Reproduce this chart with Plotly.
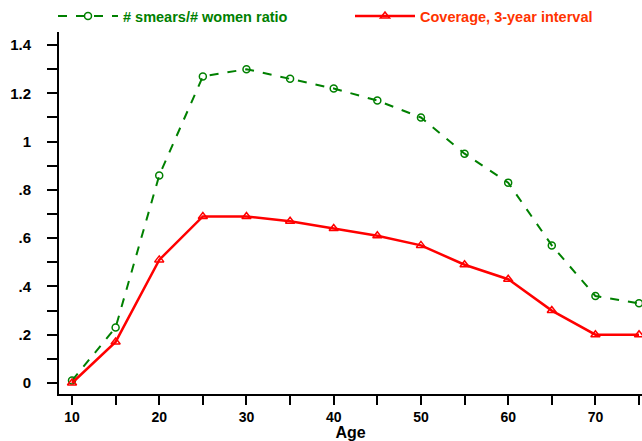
import plotly.graph_objects as go

age = [10, 15, 20, 25, 30, 35, 40, 45, 50, 55, 60, 65, 70, 75]
ratio = [0.01, 0.23, 0.86, 1.27, 1.30, 1.26, 1.22, 1.17, 1.10, 0.95, 0.83, 0.57, 0.36, 0.33]
coverage = [0.00, 0.17, 0.51, 0.69, 0.69, 0.67, 0.64, 0.61, 0.57, 0.49, 0.43, 0.30, 0.20, 0.20]

x_tickvals = [10, 15, 20, 25, 30, 35, 40, 45, 50, 55, 60, 65, 70, 75]
x_ticktext = ["10", "", "20", "", "30", "", "40", "", "50", "", "60", "", "70", ""]
y_tickvals = [0, 0.1, 0.2, 0.3, 0.4, 0.5, 0.6, 0.7, 0.8, 0.9, 1.0, 1.1, 1.2, 1.3, 1.4]
y_ticktext = ["0", "", ".2", "", ".4", "", ".6", "", ".8", "", "1", "", "1.2", "", "1.4"]

FONT = "Liberation Sans, Arial, sans-serif"

fig = go.Figure()
fig.add_trace(go.Scatter(
    x=age, y=ratio, mode="lines+markers",
    name="<span style='color:#008000'># smears/# women ratio</span>",
    line=dict(color="#008000", width=2, dash="dash"),
    marker=dict(symbol="circle-open", size=7, color="#008000", line=dict(width=1.5)),
    legend="legend",
))
fig.add_trace(go.Scatter(
    x=age, y=coverage, mode="lines+markers",
    name="<span style='color:#FF3300'>Coverage, 3-year interval</span>",
    line=dict(color="#FF0000", width=2.5),
    marker=dict(symbol="triangle-up-open", size=8, color="#FF0000", line=dict(width=1.5)),
    legend="legend2",
))

legend_common = dict(
    orientation="h", xanchor="left", y=1.0, yanchor="top",
    xref="container", yref="container",
    font=dict(size=14.5, weight="bold"),
    itemwidth=60, bgcolor="rgba(0,0,0,0)",
)

fig.update_layout(
    width=642, height=441,
    margin=dict(l=59, r=0, t=32, b=47, autoexpand=False),
    paper_bgcolor="white", plot_bgcolor="white",
    font=dict(family=FONT, size=14, color="black", weight="bold"),
    showlegend=True,
    legend=dict(x=53 / 642, **legend_common),
    legend2=dict(x=350 / 642, **legend_common),
    xaxis=dict(
        range=[8.51, 75.34], tickvals=x_tickvals, ticktext=x_ticktext,
        ticks="outside", ticklen=9, tickwidth=2, tickcolor="black",
        showline=True, linewidth=2, linecolor="black",
        showgrid=False, zeroline=False,
        title=dict(text="Age", font=dict(size=16, weight="bold"), standoff=4),
        tickfont=dict(size=14, weight="bold"),
    ),
    yaxis=dict(
        range=[-0.0456, 1.454], tickvals=y_tickvals, ticktext=y_ticktext,
        ticks="outside", ticklen=10, tickwidth=2, tickcolor="black",
        showline=True, linewidth=2, linecolor="black",
        showgrid=False, zeroline=False,
        tickfont=dict(size=15, weight="bold"),
        ticklabelstandoff=13,
    ),
)

fig.write_html("out.html")
